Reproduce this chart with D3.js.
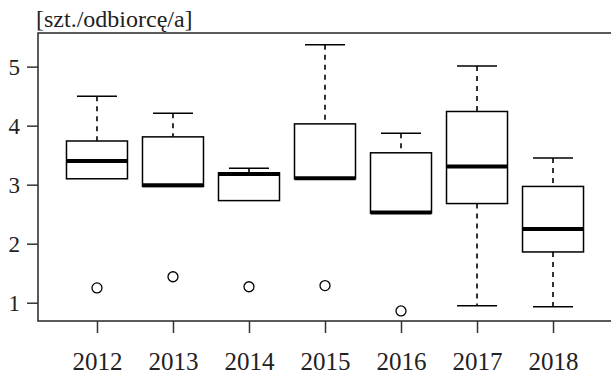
<!DOCTYPE html>
<html><head><meta charset="utf-8">
<script src="https://cdn.jsdelivr.net/npm/d3@7"></script>
<style>body{margin:0;background:#fff}svg{display:block}svg text{font-family:"Liberation Serif","Times New Roman",Times,serif}</style>
</head><body>
<script>
const years = ["2012","2013","2014","2015","2016","2017","2018"];
const whiskerLow = [3.10, 2.97, 2.73, 3.10, 2.52, 0.95, 0.93];
const q1 = [3.10, 2.97, 2.73, 3.10, 2.52, 2.68, 1.86];
const median = [3.40, 2.99, 3.18, 3.11, 2.53, 3.31, 2.25];
const q3 = [3.74, 3.81, 3.20, 4.03, 3.54, 4.24, 2.97];
const whiskerHigh = [4.50, 4.21, 3.28, 5.37, 3.87, 5.01, 3.45];
const outliers = [[1.25], [1.44], [1.27], [1.29], [0.86], [], []];
const yTicks = [1, 2, 3, 4, 5];
const yLabel = "[szt./odbiorcę/a]";

(function(){
const W = 611, H = 374;
const svg = d3.select("body").append("svg").attr("width", W).attr("height", H);
const pl = 38, pr = 612, pt = 33, pb = 321;
const x = d3.scalePoint().domain(years).range([pl, pr]).padding(0.776);
const y = d3.scaleLinear().domain([0.69, 5.57]).range([pb, pt]);
const boxW = 61, capW = 40;

const data = years.map((yr, i) => ({yr, lo: whiskerLow[i], q1: q1[i], med: median[i], q3: q3[i], hi: whiskerHigh[i], out: outliers[i]}));

const g = svg.append("g");
data.forEach(d => {
  const cx = x(d.yr);
  const gg = g.append("g");
  if (d.hi > d.q3) {
    gg.append("line").attr("x1", cx).attr("x2", cx).attr("y1", y(d.hi)).attr("y2", y(d.q3))
      .attr("stroke", "#000").attr("stroke-width", 1.6).attr("stroke-dasharray", "5,5");
    gg.append("line").attr("x1", cx - capW/2).attr("x2", cx + capW/2).attr("y1", y(d.hi)).attr("y2", y(d.hi))
      .attr("stroke", "#000").attr("stroke-width", 1.5);
  }
  if (d.lo < d.q1) {
    gg.append("line").attr("x1", cx).attr("x2", cx).attr("y1", y(d.q1)).attr("y2", y(d.lo))
      .attr("stroke", "#000").attr("stroke-width", 1.6).attr("stroke-dasharray", "5,5");
    gg.append("line").attr("x1", cx - capW/2).attr("x2", cx + capW/2).attr("y1", y(d.lo)).attr("y2", y(d.lo))
      .attr("stroke", "#000").attr("stroke-width", 1.5);
  }
  gg.append("rect").attr("x", cx - boxW/2).attr("width", boxW)
    .attr("y", y(d.q3)).attr("height", y(d.q1) - y(d.q3))
    .attr("fill", "#fff").attr("stroke", "#000").attr("stroke-width", 1.5);
  gg.append("line").attr("x1", cx - boxW/2).attr("x2", cx + boxW/2).attr("y1", y(d.med)).attr("y2", y(d.med))
    .attr("stroke", "#000").attr("stroke-width", 4);
  d.out.forEach(v => {
    gg.append("circle").attr("cx", cx).attr("cy", y(v)).attr("r", 5)
      .attr("fill", "none").attr("stroke", "#000").attr("stroke-width", 1.3);
  });
});

svg.append("rect").attr("x", pl).attr("y", pt).attr("width", pr - pl).attr("height", pb - pt)
  .attr("fill", "none").attr("stroke", "#333").attr("stroke-width", 1.6);

const ya = svg.append("g").attr("transform", `translate(${pl},0)`)
  .call(d3.axisLeft(y).tickValues(yTicks).tickSize(11).tickPadding(7).tickFormat(d3.format("d")));
ya.attr("font-family", null).attr("font-size", null);
ya.select(".domain").remove();
ya.selectAll("line").attr("stroke", "#333").attr("stroke-width", 1.5);
ya.selectAll("text").style("font-size", "23px").attr("fill", "#222");

const xa = svg.append("g").attr("transform", `translate(0,${pb})`)
  .call(d3.axisBottom(x).tickSize(12));
xa.attr("font-family", null).attr("font-size", null);
xa.select(".domain").remove();
xa.selectAll("line").attr("stroke", "#333").attr("stroke-width", 1.5);
xa.selectAll("text").style("font-size", "25px").attr("fill", "#222").attr("y", 49).attr("dy", 0);

svg.append("text").attr("x", 36).attr("y", 27).style("font-size", "24px")
  .attr("fill", "#222").text(yLabel);
})();
</script>
</body></html>
